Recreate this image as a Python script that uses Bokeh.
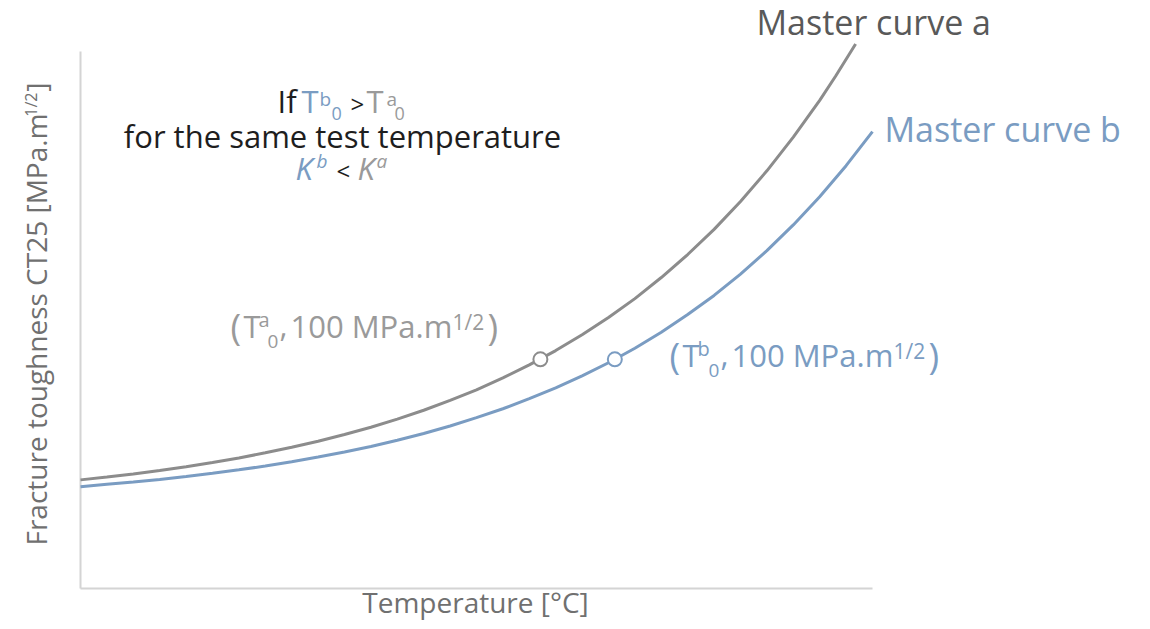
import math
from bokeh.plotting import figure
from bokeh.models import Range1d, Label
from bokeh.embed import file_html
from bokeh.resources import INLINE

# ---------------- data ----------------
T_MIN = -110.0          # left end of temperature axis [°C]
T_AXIS_END = 40.0       # right end of the drawn temperature axis
K_MIN = -7.6            # bottom of toughness axis
K_AXIS_TOP = 244.5      # top of drawn toughness axis

temp_a = [-110, -105, -100, -95, -90, -85, -80, -75, -70, -65, -60, -55, -50, -45,
          -40, -35, -30, -25, -20, -15, -10, -5, 0, 5, 10, 15, 20, 25, 30, 33, 36.8]
k_a = [43.4, 44.7, 46.2, 47.8, 49.6, 51.6, 53.7, 56.1, 58.7, 61.5, 64.7, 68.1, 71.9, 76.1,
       80.7, 85.7, 91.3, 97.4, 104.1, 111.5, 119.6, 128.5, 138.4, 149.2, 161.0, 174.1,
       188.5, 204.3, 221.6, 232.9, 248.0]

temp_b = [-110, -105, -100, -95, -90, -85, -80, -75, -70, -65, -60, -55, -50, -45,
          -40, -35, -30, -25, -20, -15, -10, -5, 0, 5, 10, 15, 20, 25, 30, 35, 40]
k_b = [40.2, 41.3, 42.4, 43.6, 45.0, 46.5, 48.1, 49.9, 51.9, 54.1, 56.5, 59.1, 62.0, 65.2,
       68.7, 72.6, 76.8, 81.5, 86.6, 92.2, 98.4, 105.2, 112.7, 121.0, 130.0, 140.0,
       151.0, 163.1, 176.3, 190.9, 206.9]

t0_points = [-22.9, -8.8]      # T0a, T0b
k0_points = [100.0, 100.0]     # 100 MPa.m^1/2

# ---------------- styling ----------------
FONT = "Open Sans"
BLUE = "#7a9cc2"
GRAY_CURVE = "#8c8c8c"
GRAY_TXT = "#9a9a9a"
DARK = "#1e1e1e"
AXIS_TXT = "#707070"
AXIS_LINE = "#d4d4d4"

W, H = 1134, 621
ORIGIN_X, ORIGIN_Y = 80, 588      # pixel position of (T_MIN, K_MIN)
PX_PER_T = 5.28
PX_PER_K = 2.13
BASE_FIX = 0.4                    # baseline correction (em) of the svg text layout

x_range = Range1d(T_MIN - ORIGIN_X / PX_PER_T, T_MIN + (W - ORIGIN_X) / PX_PER_T)
y_range = Range1d(K_MIN - (H - ORIGIN_Y) / PX_PER_K, K_MIN + ORIGIN_Y / PX_PER_K)

p = figure(width=W, height=H, x_range=x_range, y_range=y_range,
           output_backend="svg", toolbar_location=None,
           x_axis_type=None, y_axis_type=None,
           min_border=0, min_border_left=0, min_border_right=0,
           min_border_top=0, min_border_bottom=0)
p.outline_line_color = None
p.grid.visible = False
p.background_fill_color = "white"
p.border_fill_color = "white"

# axis lines (no ticks in the reference)
p.segment(x0=[T_MIN, T_MIN], y0=[K_MIN, K_MIN],
          x1=[T_AXIS_END, T_MIN], y1=[K_MIN, K_AXIS_TOP],
          line_color=AXIS_LINE, line_width=2)

p.line(temp_a, k_a, line_color=GRAY_CURVE, line_width=3)
p.line(temp_b, k_b, line_color=BLUE, line_width=3)
p.scatter([t0_points[0]], [k0_points[0]], marker="circle", size=14,
          fill_color="white", line_color=GRAY_CURVE, line_width=2)
p.scatter([t0_points[1]], [k0_points[1]], marker="circle", size=14,
          fill_color="white", line_color=BLUE, line_width=2)


# pixel -> data helpers (for text placement only)
def tx(px):
    return T_MIN + (px - ORIGIN_X) / PX_PER_T


def ky(py):
    return K_MIN + (ORIGIN_Y - py) / PX_PER_K


def lab(text, px, py, size, color, align="left", style="normal", angle=0.0):
    if angle:
        px = px - BASE_FIX * size
    else:
        py = py - BASE_FIX * size
    p.add_layout(Label(x=tx(px), y=ky(py), text=text, text_font=FONT,
                       text_font_size=f"{size}px", text_color=color,
                       text_align=align, text_baseline="alphabetic",
                       text_font_style=style, angle=angle))


# curve names
lab("Master curve a", 756, 35, 34, "#595959")
lab("Master curve b", 884, 142, 34, BLUE)

# explanatory block
lab("If", 277, 113, 31, DARK)
lab("T", 301, 113, 31, BLUE)
lab("b", 319, 106, 19, BLUE)
lab("0", 331, 120, 18, BLUE)
lab(">", 350, 113, 24, DARK)
lab("T", 366, 113, 31, GRAY_TXT)
lab("a", 386, 106, 19, GRAY_TXT)
lab("0", 394, 120, 18, GRAY_TXT)
lab("for the same test temperature", 342, 148, 31, DARK, align="center")
lab("K", 295, 180, 31, BLUE, style="italic")
lab("b", 316, 168, 19, BLUE, style="italic")
lab("<", 336, 180, 24, DARK)
lab("K", 357, 180, 31, GRAY_TXT, style="italic")
lab("a", 376, 168, 19, GRAY_TXT, style="italic")


# point annotations
def point_label(x0, base, color, sup, shift):
    lab("(", x0, base + 2, 36, color)
    lab("T", x0 + 13, base, 31, color)
    lab(sup, x0 + 28, base - 11, 20, color)
    lab("0", x0 + 37 + shift, base + 11, 19, color)
    lab(",", x0 + 49 + shift, base, 31, color)
    lab("100 MPa.m", x0 + 60 + shift, base, 31, color)
    lab("1/2", x0 + 222 + shift, base - 8, 21, color)
    lab(")", x0 + 257 + shift, base + 2, 36, color)


point_label(230, 338, GRAY_TXT, "a", 0)
point_label(669, 367, BLUE, "b", 2)

# axis titles
lab("Temperature [°C]", 475, 613, 28, AXIS_TXT, align="center")
lab("]", 47, 82, 28, AXIS_TXT, align="right", angle=math.pi / 2)
lab("1/2", 37, 92, 16, AXIS_TXT, align="right", angle=math.pi / 2)
lab("Fracture toughness CT25 [MPa.m", 47, 113, 28, AXIS_TXT, align="right", angle=math.pi / 2)

open("out.html", "w").write(file_html(p, INLINE))
